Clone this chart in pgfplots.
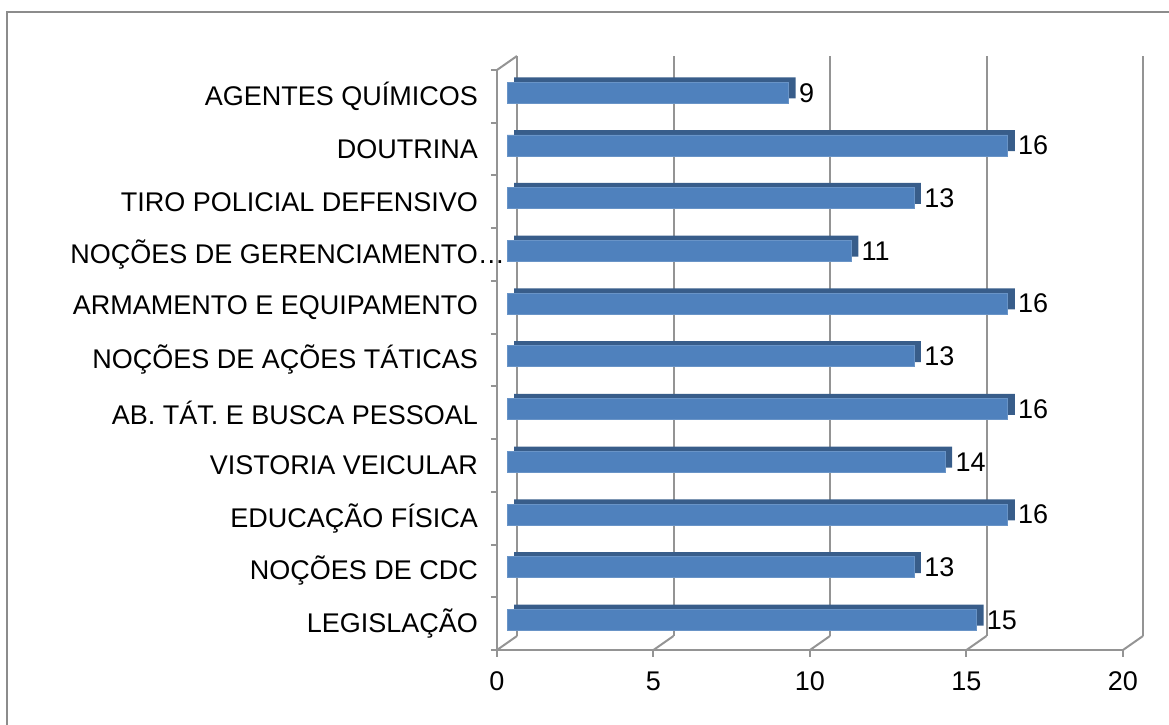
\documentclass[border=0pt]{standalone}
\usepackage{pgfplots}
\pgfplotsset{compat=1.18}
\usepackage{pgfplotstable}
\usepackage{fontspec}
\setmainfont{Liberation Sans}
\definecolor{barblue}{HTML}{4F81BD}
\definecolor{bardark}{HTML}{385D8A}
\definecolor{gridgray}{HTML}{949494}
\definecolor{framegray}{HTML}{8C8C8C}

\protected\def\lA{LEGISLAÇÃO}
\protected\def\lB{NOÇÕES DE CDC}
\protected\def\lC{EDUCAÇÃO FÍSICA}
\protected\def\lD{VISTORIA VEICULAR}
\protected\def\lE{AB. TÁT. E BUSCA PESSOAL}
\protected\def\lF{NOÇÕES DE AÇÕES TÁTICAS}
\protected\def\lG{ARMAMENTO E EQUIPAMENTO}
\protected\def\lH{NOÇÕES DE GERENCIAMENTO\rlap{…}}
\protected\def\lI{TIRO POLICIAL DEFENSIVO}
\protected\def\lJ{DOUTRINA}
\protected\def\lK{AGENTES QUÍMICOS}

\pgfplotstableread{
k v
0 15
1 13
2 16
3 14
4 16
5 13
6 16
7 11
8 13
9 16
10 9
}\data

\begin{document}
\begin{tikzpicture}
\useasboundingbox (0,0) rectangle (584.5pt,362pt);
\draw[framegray, line width=1.3pt] (3.5pt,-20pt) -- (3.5pt,356pt) -- (600pt,356pt);
\pgfplotsset{common/.style={scale only axis, width=313pt, height=290pt,
  xmin=0, xmax=20, ymin=-0.5, ymax=10.5, anchor=south west, clip=false}}
% back wall grid
\begin{axis}[common, at={(258.5pt,44pt)}, axis line style={draw=none},
  xtick={0,5,...,20}, ytick=\empty, xticklabels={}, major tick length=0pt,
  xmajorgrids, grid style={gridgray, line width=1pt}]
\end{axis}
% front frame
\begin{axis}[common, at={(248.5pt,37pt)},
  axis x line*=bottom, axis y line*=left,
  axis line style={-, gridgray, line width=1pt},
  xtick={0,5,...,20}, ytick={0,...,10},
  yticklabels={\lA,\lB,\lC,\lD,\lE,\lF,\lG,\lH,\lI,\lJ,\lK},
  minor ytick={-0.5,0.5,...,10.5},
  tick align=outside, major tick length=3.5pt, minor tick length=3pt,
  major y tick style={draw=none},
  tick style={gridgray, line width=1pt},
  ticklabel style={font=\fontsize{13.5}{15}\selectfont},
  xticklabel style={yshift=-4pt},
  yticklabel style={xshift=-2.5pt},
  /pgf/number format/assume math mode=true]
\pgfplotsinvokeforeach{0,5,10,15,20}{
  \draw[gridgray, line width=1pt] (axis cs:#1,-0.5) -- ++(10pt,7pt);
}
\draw[gridgray, line width=1pt] (axis cs:0,10.5) -- ++(10pt,7pt);
\end{axis}
% bar depth (top and side faces)
\begin{axis}[common, at={(257pt,41.2pt)}, hide axis, xbar, bar width=10.5pt]
\addplot[fill=bardark, draw=none] table[x=v, y=k]{\data};
\end{axis}
% bar front faces
\begin{axis}[common, at={(253.5pt,38.8pt)}, hide axis, xbar, bar width=10.5pt,
  nodes near coords,
  nodes near coords style={font=\fontsize{13.5}{15}\selectfont, anchor=west, inner sep=0pt, xshift=5pt},
  /pgf/number format/assume math mode=true]
\addplot[fill=barblue, draw=barblue!85!white, line width=0.4pt] table[x=v, y=k]{\data};
\end{axis}
\end{tikzpicture}
\end{document}
